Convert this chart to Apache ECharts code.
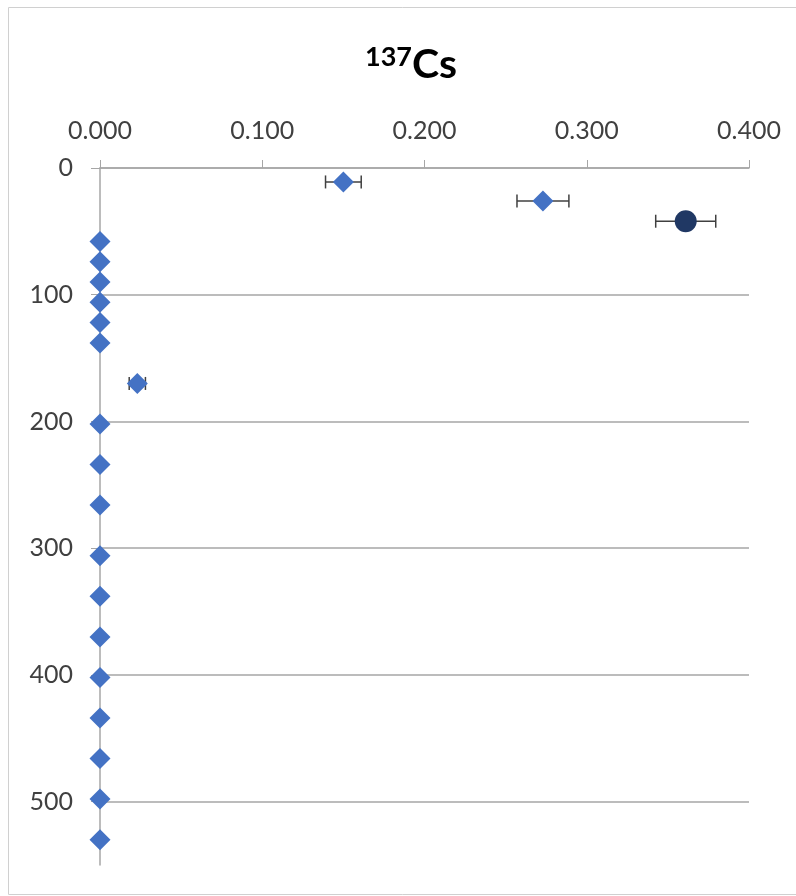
<!DOCTYPE html>
<html>
<head>
<meta charset="utf-8">
<script src="https://cdn.jsdelivr.net/npm/echarts@6/dist/echarts.min.js"></script>
<style>
html,body{margin:0;padding:0;background:#fff;}
#chart{width:796px;height:896px;}
</style>
</head>
<body>
<div id="chart"></div>
<script>
// Depth values (y) and 137Cs activity (x)
const depths     = [11, 26, 58, 74, 90, 106, 122, 138, 170, 202, 234, 266, 306, 338, 370, 402, 434, 466, 498, 530];
const activity   = [0.150, 0.273, 0, 0, 0, 0, 0, 0, 0.023, 0, 0, 0, 0, 0, 0, 0, 0, 0, 0, 0];
const activityErr= [0.011, 0.016, 0, 0, 0, 0, 0, 0, 0.005, 0, 0, 0, 0, 0, 0, 0, 0, 0, 0, 0];
// Highlighted point (dark circle)
const peakDepth = [42];
const peakActivity = [0.361];
const peakErr = [0.0185];
// Axis ticks
const xTicks = [0, 0.1, 0.2, 0.3, 0.4];
const yTicks = [0, 100, 200, 300, 400, 500];
const yMax = 550;

const mainData = depths.map((d, i) => [activity[i], d]);
const peakData = peakDepth.map((d, i) => [peakActivity[i], d]);
const errData = depths.map((d, i) => [activity[i], d, activityErr[i]])
  .concat(peakDepth.map((d, i) => [peakActivity[i], d, peakErr[i]]))
  .filter(r => r[2] > 0);

const chart = echarts.init(document.getElementById('chart'));
const gridColor = '#a6a6a6';
chart.setOption({
  animation: false,
  textStyle: { fontFamily: 'Lato' },
  graphic: [{
    type: 'rect', silent: true, z: -10,
    shape: { x: 8.5, y: 7.5, width: 800, height: 887 },
    style: { fill: 'none', stroke: '#d0d0d0', lineWidth: 1 }
  }],
  title: {
    text: '{sup|137}{main|Cs}',
    left: 360, top: 39,
    textStyle: {
      rich: {
        sup: { fontSize: 27, fontWeight: 'bold', color: '#000', fontFamily: 'Lato', lineHeight: 18, verticalAlign: 'top' },
        main: { fontSize: 41, fontWeight: 'bold', color: '#000', fontFamily: 'Lato', lineHeight: 41, verticalAlign: 'bottom' }
      }
    }
  },
  grid: { left: 100, right: 47, top: 168, bottom: 31, containLabel: false },
  xAxis: {
    type: 'value', position: 'top', min: 0, max: 0.4, interval: 0.1,
    axisLine: { show: true, onZero: false, lineStyle: { color: gridColor, width: 1.5 } },
    axisTick: { show: true, inside: false, length: 8, lineStyle: { color: gridColor } },
    splitLine: { show: false },
    axisLabel: { fontSize: 25, color: '#404040', margin: 25, formatter: v => v.toFixed(3),
      customValues: xTicks }
  },
  yAxis: {
    type: 'value', inverse: true, min: 0, max: yMax, interval: 100,
    axisLine: { show: true, onZero: false, lineStyle: { color: gridColor, width: 1.5 } },
    axisTick: { show: true, inside: false, length: 9, lineStyle: { color: gridColor }, customValues: yTicks },
    splitLine: { show: true, lineStyle: { color: [gridColor, gridColor, gridColor, gridColor, gridColor, gridColor, 'rgba(0,0,0,0)'], width: 1.5 } },
    axisLabel: { fontSize: 25, color: '#404040', margin: 27, customValues: yTicks }
  },
  series: [
    {
      type: 'custom', z: 1, data: errData,
      renderItem: function (params, api) {
        const x = api.value(0), y = api.value(1), e = api.value(2);
        const p1 = api.coord([x - e, y]);
        const p2 = api.coord([x + e, y]);
        const h = 6.5;
        const style = { stroke: '#404040', lineWidth: 1.5 };
        return {
          type: 'group',
          children: [
            { type: 'line', shape: { x1: p1[0], y1: p1[1], x2: p2[0], y2: p2[1] }, style },
            { type: 'line', shape: { x1: p1[0], y1: p1[1] - h, x2: p1[0], y2: p1[1] + h }, style },
            { type: 'line', shape: { x1: p2[0], y1: p2[1] - h, x2: p2[0], y2: p2[1] + h }, style }
          ]
        };
      }
    },
    {
      type: 'scatter', z: 3, data: mainData, symbol: 'diamond', symbolSize: [21, 21],
      itemStyle: { color: '#4472c4', opacity: 1 }
    },
    {
      type: 'scatter', z: 3, data: peakData, symbol: 'circle', symbolSize: 22,
      itemStyle: { color: '#203864', opacity: 1 }
    }
  ]
});
</script>
</body>
</html>
